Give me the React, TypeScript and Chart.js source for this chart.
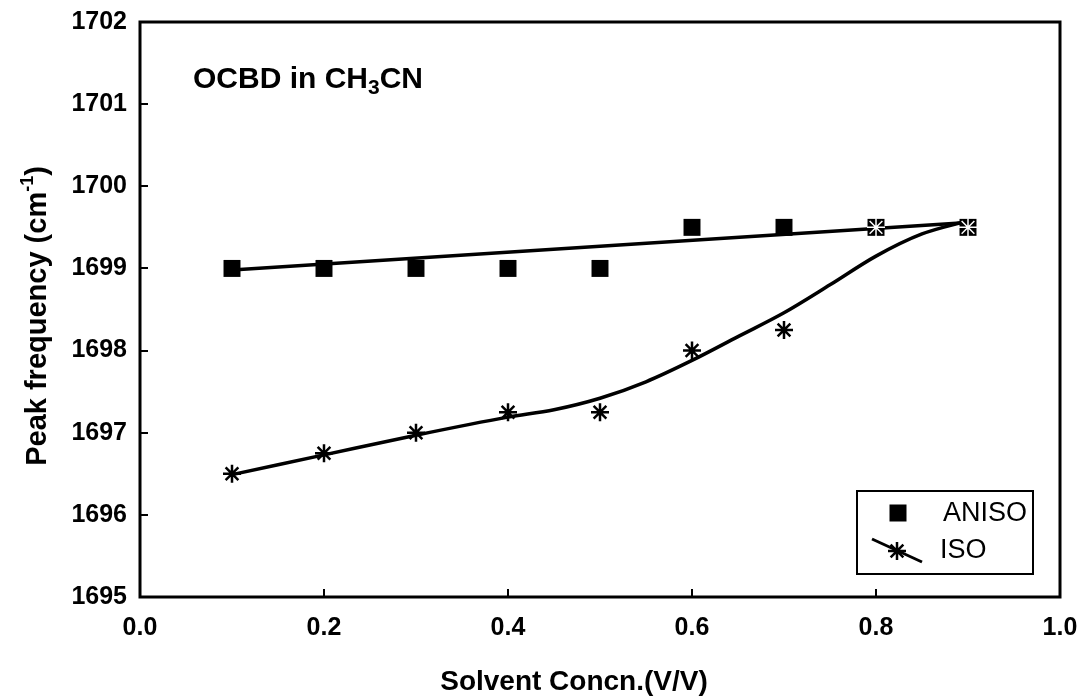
import React, { useEffect, useRef } from "react";
import { Chart, registerables } from "chart.js";

Chart.register(...registerables);

// ---- data ----
const concentrations = [0.1, 0.2, 0.3, 0.4, 0.5, 0.6, 0.7, 0.8, 0.9];
const anisoValues = [1699, 1699, 1699, 1699, 1699, 1699.5, 1699.5, 1699.5, 1699.5];
const isoValues = [1696.5, 1696.75, 1697, 1697.25, 1697.25, 1698, 1698.25, 1699.5, 1699.5];

// linear fit drawn through ANISO
const anisoFitX = [0.1, 0.9];
const anisoFitY = [1698.98, 1699.56];

// smooth curve drawn through ISO
const isoCurveX = [0.1, 0.2, 0.3, 0.4, 0.45, 0.5, 0.55, 0.6, 0.65, 0.7, 0.75, 0.8, 0.85, 0.9];
const isoCurveY = [1696.49, 1696.73, 1696.97, 1697.19, 1697.28, 1697.42, 1697.62, 1697.88, 1698.17, 1698.46, 1698.8, 1699.15, 1699.42, 1699.58];

const xTickValues = [0, 0.2, 0.4, 0.6, 0.8, 1.0];
const yTickValues = [1695, 1696, 1697, 1698, 1699, 1700, 1701, 1702];

const seriesNames = ["ANISO", "ISO"];
const xTitle = "Solvent Concn.(V/V)";
const yTitleMain = "Peak frequency (cm";
const yTitleSup = "-1";
const yTitleEnd = ")";
const annotationParts = ["OCBD in CH", "3", "CN"];

const FONT = "'Liberation Sans', Arial, Helvetica, sans-serif";

function drawStar(ctx: CanvasRenderingContext2D, x: number, y: number, r: number) {
  const d = r * Math.SQRT1_2;
  ctx.beginPath();
  ctx.moveTo(x - r, y);
  ctx.lineTo(x + r, y);
  ctx.moveTo(x, y - r);
  ctx.lineTo(x, y + r);
  ctx.moveTo(x - d, y - d);
  ctx.lineTo(x + d, y + d);
  ctx.moveTo(x - d, y + d);
  ctx.lineTo(x + d, y - d);
  ctx.stroke();
}

const decorPlugin = {
  id: "decor",
  afterDraw(chart: any) {
    const ctx: CanvasRenderingContext2D = chart.ctx;
    const { left, right, top, bottom } = chart.chartArea;
    const xs = chart.scales.x;
    const ys = chart.scales.y;
    ctx.save();
    ctx.strokeStyle = "#000";
    ctx.fillStyle = "#000";

    // frame
    ctx.lineWidth = 3;
    ctx.strokeRect(left, top, right - left, bottom - top);

    // inward ticks
    ctx.lineWidth = 2;
    ctx.beginPath();
    xTickValues.forEach((v) => {
      const px = Math.round(xs.getPixelForValue(v));
      ctx.moveTo(px, bottom);
      ctx.lineTo(px, bottom - 8);
    });
    yTickValues.forEach((v) => {
      const py = Math.round(ys.getPixelForValue(v));
      ctx.moveTo(left, py);
      ctx.lineTo(left + 8, py);
    });
    ctx.stroke();

    // annotation "OCBD in CH3CN"
    ctx.textBaseline = "alphabetic";
    ctx.textAlign = "left";
    let ax = 193;
    const ay = 88;
    ctx.font = `bold 30px ${FONT}`;
    ctx.fillText(annotationParts[0], ax, ay);
    ax += ctx.measureText(annotationParts[0]).width;
    ctx.font = `bold 21px ${FONT}`;
    ctx.fillText(annotationParts[1], ax, ay + 6);
    ax += ctx.measureText(annotationParts[1]).width;
    ctx.font = `bold 30px ${FONT}`;
    ctx.fillText(annotationParts[2], ax, ay);

    // x title
    ctx.font = `bold 28px ${FONT}`;
    ctx.textAlign = "center";
    ctx.textBaseline = "middle";
    ctx.fillText(xTitle, 574, 682);

    // y title (rotated)
    ctx.save();
    ctx.translate(36, 316);
    ctx.rotate(-Math.PI / 2);
    ctx.textAlign = "left";
    ctx.textBaseline = "alphabetic";
    ctx.font = `bold 29px ${FONT}`;
    const w1 = ctx.measureText(yTitleMain).width;
    const w3 = ctx.measureText(yTitleEnd).width;
    ctx.font = `bold 18px ${FONT}`;
    const w2 = ctx.measureText(yTitleSup).width;
    const total = w1 + w2 + w3;
    let tx = -total / 2;
    const base = 10;
    ctx.font = `bold 29px ${FONT}`;
    ctx.fillText(yTitleMain, tx, base);
    tx += w1;
    ctx.font = `bold 18px ${FONT}`;
    ctx.fillText(yTitleSup, tx, base - 13);
    tx += w2;
    ctx.font = `bold 29px ${FONT}`;
    ctx.fillText(yTitleEnd, tx, base);
    ctx.restore();

    // legend box
    const bx = 857, by = 491, bw = 176, bh = 83;
    ctx.lineWidth = 2;
    ctx.fillStyle = "#fff";
    ctx.fillRect(bx, by, bw, bh);
    ctx.strokeRect(bx, by, bw, bh);
    ctx.fillStyle = "#000";
    // ANISO entry
    ctx.fillRect(898 - 8.5, 513 - 8.5, 17, 17);
    // ISO entry
    ctx.lineWidth = 3;
    ctx.beginPath();
    ctx.moveTo(872, 539);
    ctx.lineTo(922, 562);
    ctx.stroke();
    ctx.lineWidth = 2.5;
    drawStar(ctx, 897, 551, 9);
    ctx.font = `27px ${FONT}`;
    ctx.textAlign = "left";
    ctx.textBaseline = "middle";
    ctx.fillText(seriesNames[0], 943, 514);
    ctx.fillText(seriesNames[1], 940, 551);

    ctx.restore();
  },
};

export default function App() {
  const canvasRef = useRef<HTMLCanvasElement | null>(null);

  useEffect(() => {
    if (!canvasRef.current) return;
    const pts = (xs: number[], ys: number[]) => xs.map((x, i) => ({ x, y: ys[i] }));
    const starColors = concentrations.map((c) => (c >= 0.8 ? "#fff" : "#000"));
    const starWidths = concentrations.map((c) => (c >= 0.8 ? 1.5 : 2.5));

    const chart = new Chart(canvasRef.current, {
      type: "scatter",
      data: {
        datasets: [
          {
            label: seriesNames[1],
            data: pts(concentrations, isoValues),
            showLine: false,
            pointStyle: "star",
            pointRadius: 9,
            pointBorderColor: starColors,
            pointBackgroundColor: starColors,
            pointBorderWidth: starWidths,
          } as any,
          {
            label: seriesNames[0],
            data: pts(concentrations, anisoValues),
            showLine: false,
            pointStyle: "rect",
            pointRadius: 12,
            pointBackgroundColor: "#000",
            pointBorderColor: "#000",
            pointBorderWidth: 0,
          },
          {
            label: "ANISO fit",
            data: pts(anisoFitX, anisoFitY),
            showLine: true,
            pointRadius: 0,
            borderColor: "#000",
            borderWidth: 3.5,
          },
          {
            label: "ISO fit",
            data: pts(isoCurveX, isoCurveY),
            showLine: true,
            pointRadius: 0,
            borderColor: "#000",
            borderWidth: 3.5,
            cubicInterpolationMode: "monotone",
          },
        ],
      },
      options: {
        responsive: false,
        animation: false,
        events: [],
        layout: { padding: { left: 0, top: 22, right: 22, bottom: 0 } },
        plugins: {
          legend: { display: false },
          tooltip: { enabled: false },
          title: { display: false },
        },
        scales: {
          x: {
            type: "linear",
            min: 0,
            max: 1,
            afterFit: (s: any) => {
              s.height = 100;
              s.paddingLeft = 0;
              s.paddingRight = 0;
            },
            afterBuildTicks: (s: any) => {
              s.ticks = xTickValues.map((v) => ({ value: v }));
            },
            grid: { display: false, drawTicks: false },
            border: { display: false },
            ticks: {
              color: "#000",
              padding: 16,
              font: { family: FONT, size: 25, weight: "bold" },
              callback: (v: any) => Number(v).toFixed(1),
              maxRotation: 0,
              autoSkip: false,
            },
          },
          y: {
            type: "linear",
            min: 1695,
            max: 1702,
            afterFit: (s: any) => {
              s.width = 140;
              s.paddingTop = 0;
              s.paddingBottom = 0;
            },
            afterBuildTicks: (s: any) => {
              s.ticks = yTickValues.map((v) => ({ value: v }));
            },
            grid: { display: false, drawTicks: false },
            border: { display: false },
            ticks: {
              color: "#000",
              padding: 13,
              font: { family: FONT, size: 25, weight: "bold" },
              callback: (v: any) => String(v),
              autoSkip: false,
            },
          },
        },
      },
      plugins: [decorPlugin],
    } as any);

    return () => chart.destroy();
  }, []);

  return (
    <div style={{ position: "absolute", left: 0, top: 0, width: 1082, height: 697, background: "#fff" }}>
      <canvas ref={canvasRef} width={1082} height={697} style={{ display: "block" }} />
    </div>
  );
}
